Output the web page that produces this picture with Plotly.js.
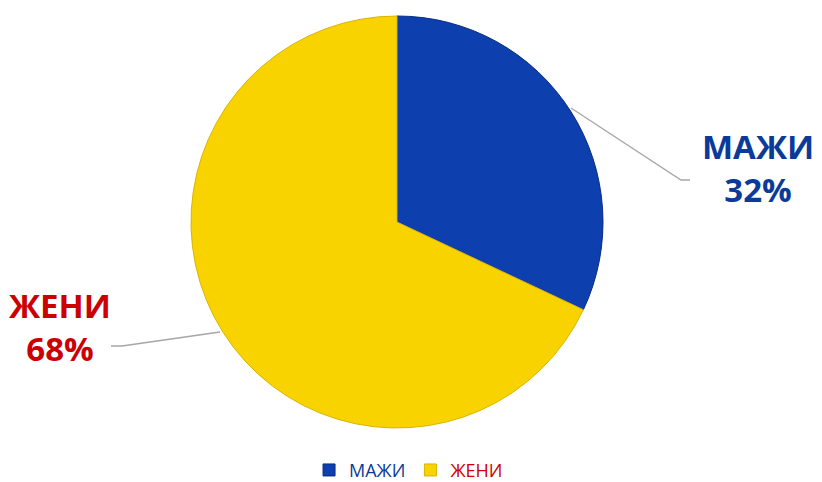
<!DOCTYPE html>
<html>
<head>
<meta charset="utf-8">
<script src="https://cdn.plot.ly/plotly-3.0.1.min.js"></script>
<style>html,body{margin:0;padding:0;background:#fff;}#chart{width:822px;height:482px;}</style>
</head>
<body>
<div id="chart"></div>
<script>
const categories = ["МАЖИ", "ЖЕНИ"];
const values = [32, 68];
const sliceColors = ["#0d3fae", "#f9d300"];
const textColors = ["#0b3a9b", "#cc0000"];

const W = 822, H = 482;
const px = x => x / W;
const py = y => 1 - y / H;

const trace = {
  type: "pie",
  labels: categories.map((c, i) => `<span style="color:${textColors[i]}">${c}</span>`),
  values: values,
  sort: false,
  direction: "clockwise",
  rotation: 0,
  textinfo: "none",
  hoverinfo: "label+percent",
  marker: { colors: sliceColors, line: { color: ["#082c80", "#d9b400"], width: 1 } },
  domain: { x: [px(191), px(603)], y: [py(428), py(16)] }
};

const annotations = [
  { x: px(758), y: py(168), text: `<b>${categories[0]}<br>${values[0]}%</b>`, color: textColors[0] },
  { x: px(60), y: py(327), text: `<b>${categories[1]}<br>${values[1]}%</b>`, color: textColors[1] }
].map(a => ({
  x: a.x, y: a.y, xref: "paper", yref: "paper", xanchor: "center", yanchor: "middle",
  showarrow: false, text: a.text, align: "center",
  font: { family: "Open Sans, Noto Sans, sans-serif", size: 33, color: a.color }
}));

const lineStyle = { color: "#a6a6a6", width: 1.3 };
const shapes = [
  { type: "path", xref: "paper", yref: "paper",
    path: `M ${px(571)} ${py(108)} L ${px(681)} ${py(180)} L ${px(690)} ${py(180)}`, line: lineStyle },
  { type: "path", xref: "paper", yref: "paper",
    path: `M ${px(220)} ${py(332)} L ${px(122)} ${py(346)} L ${px(111)} ${py(346)}`, line: lineStyle }
];

const layout = {
  width: W, height: H,
  margin: { l: 0, r: 0, t: 0, b: 0, autoexpand: false },
  paper_bgcolor: "#ffffff",
  showlegend: true,
  legend: {
    orientation: "h", x: 0.497, xanchor: "center", y: -0.014, yanchor: "bottom",
    font: { family: "Open Sans, Noto Sans, sans-serif", size: 18 },
    itemwidth: 30, traceorder: "normal"
  },
  annotations: annotations,
  shapes: shapes
};

Plotly.newPlot("chart", [trace], layout, { displayModeBar: false, staticPlot: true });
</script>
</body>
</html>
